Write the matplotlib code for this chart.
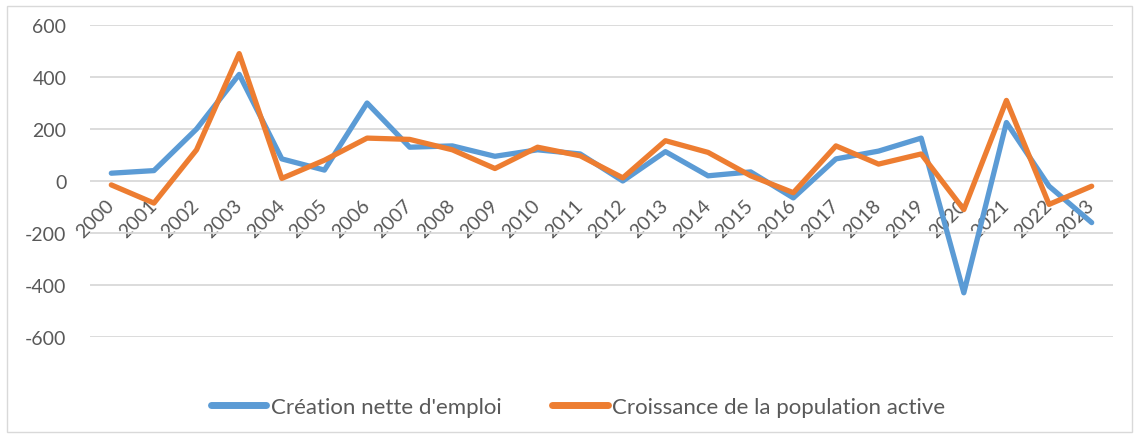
import matplotlib
matplotlib.use("Agg")
import matplotlib.pyplot as plt
from matplotlib.patches import Rectangle

years = [str(y) for y in range(2000, 2024)]
creation_emploi = [30, 40, 200, 410, 85, 42, 300, 130, 135, 95, 120, 104, 0, 113, 20, 35,
                   -65, 85, 115, 165, -430, 225, -20, -160]
croissance_pop = [-15, -85, 120, 490, 10, 80, 165, 160, 120, 48, 130, 97, 12, 155, 110, 20,
                  -45, 135, 65, 104, -110, 310, -90, -20]
yticks = [-600, -400, -200, 0, 200, 400, 600]

plt.rcParams['font.family'] = ['Lato', 'DejaVu Sans']
W, H = 1139, 439
fig = plt.figure(figsize=(W / 100, H / 100), dpi=100)
fig.patches.append(Rectangle((7 / W, 6 / H), 1125 / W, 426 / H, transform=fig.transFigure,
                             fill=False, edgecolor='#d9d9d9', linewidth=1))
ax = fig.add_axes([90 / W, 1 - 338 / H, 1023 / W, 312 / H])

x = list(range(len(years)))
l1, = ax.plot(x, creation_emploi, color='#5B9BD5', lw=3.8, solid_joinstyle='round',
              solid_capstyle='round', label="Création nette d'emploi", zorder=3)
l2, = ax.plot(x, croissance_pop, color='#ED7D31', lw=3.8, solid_joinstyle='round',
              solid_capstyle='round', label="Croissance de la population active", zorder=4)

ax.set_xlim(-0.5, len(years) - 0.5)
ax.set_ylim(-600, 600)
ax.set_yticks(yticks)
ax.set_yticklabels([str(v) for v in yticks])
ax.grid(axis='y', color='#d9d9d9', lw=1.3)
ax.set_axisbelow(True)
for s in ['top', 'right', 'left']:
    ax.spines[s].set_visible(False)
ax.spines['bottom'].set_position(('data', 0))
ax.spines['bottom'].set_visible(False)
ax.tick_params(axis='both', length=0, colors='#595959', labelsize=14)
ax.tick_params(axis='y', pad=17)
ax.set_xticks(x)
ax.set_xticklabels(years, rotation=45, ha='right', va='center', rotation_mode='anchor')
ax.tick_params(axis='x', pad=15)

leg = fig.legend(handles=[l1, l2], loc='center', bbox_to_anchor=(578 / W, 1 - 408 / H),
                 ncol=2, frameon=False, fontsize=16, handlelength=2.5, handletextpad=0.2,
                 columnspacing=2.3, labelcolor='#595959')
for h in leg.get_lines():
    h.set_linewidth(5)

fig.savefig('out.png', dpi=100)
